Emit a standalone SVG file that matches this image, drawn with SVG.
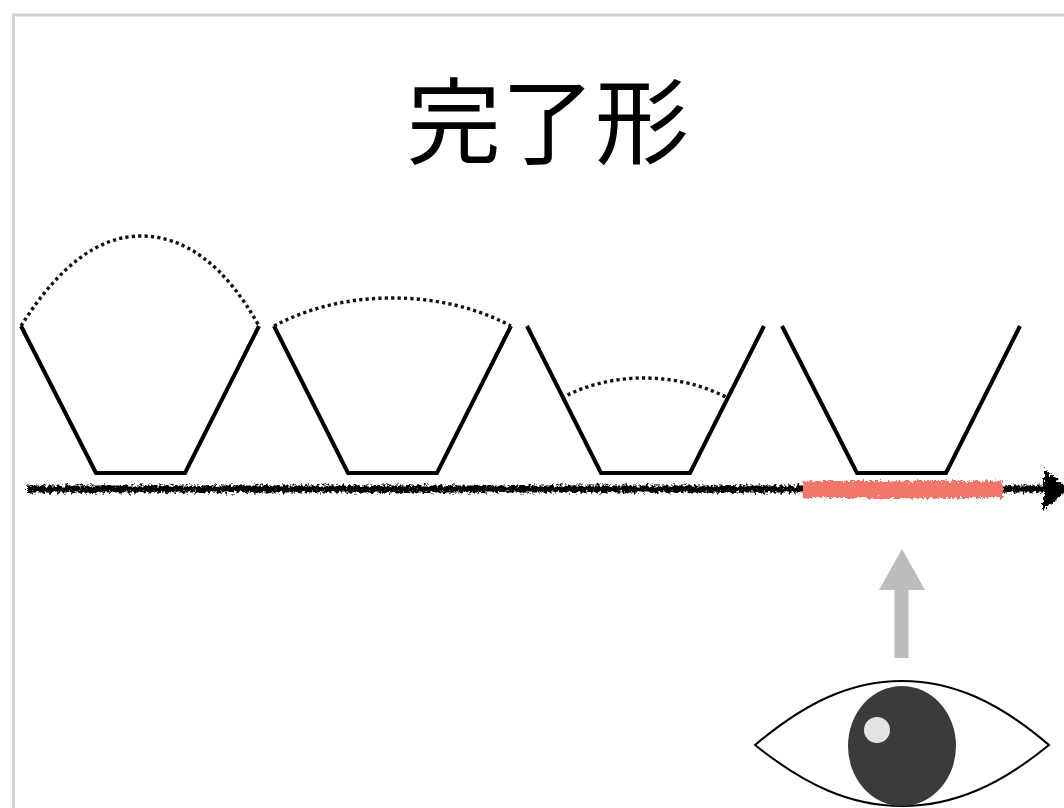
<svg xmlns="http://www.w3.org/2000/svg" width="1064" height="808" viewBox="0 0 1064 808">
<style>
.cup{fill:none;stroke:#000;stroke-width:4;stroke-linejoin:miter}
.dot{fill:none;stroke:#111;stroke-width:3.400;stroke-dasharray:3.200 3.200}
</style>
<defs>
<filter id="rough" x="-2%" y="-150%" width="104%" height="400%">
<feTurbulence type="fractalNoise" baseFrequency="0.35" numOctaves="3" seed="4"/>
<feDisplacementMap in="SourceGraphic" scale="8" xChannelSelector="R" yChannelSelector="G"/>
</filter>
</defs>
<rect width="1064" height="808" fill="#fff"/>
<path id="frame" d="M13.500 808V15H1064" fill="none" stroke="#d2d2d2" stroke-width="3"/>
<g id="title"><text x="548" y="157" text-anchor="middle" font-family="'Noto Sans CJK JP','Noto Sans CJK SC',sans-serif" font-size="94" fill="#000">完了形</text></g>
<g id="cup1"><path class="cup" d="M21 326L96 473H185L259 326"/><path class="dot" d="M21 326C60 264 100 236 141 236C185 236 225 265 259 326"/></g>
<g id="cup2"><path class="cup" d="M274 326L348 473H437L511 326"/><path class="dot" d="M274 326C310 307 350 298 392 298C435 298 475 307 511 326"/></g>
<g id="cup3"><path class="cup" d="M527 326L601 473H690L764 326"/><path class="dot" d="M562 398C585 385 615 378 643 378C672 378 700 384 726 397"/></g>
<g id="cup4"><path class="cup" d="M782 326L857 473H946L1020 326"/></g>
<g id="connectors">
<g id="timeline" filter="url(#rough)">
<path d="M27 489H1046" stroke="#000" stroke-width="7" fill="none"/>
<path d="M1043 469L1070 489L1043 510Z" fill="#000"/>
</g>
<rect id="highlight" x="803" y="481" width="200" height="17" fill="#f2766b" filter="url(#rough)"/>
<path id="look" d="M902 549L925 590H908.500V658H894.500V590H879Z" fill="#bcbcbc"/>
</g>
<g id="eye">
<path d="M755 745C805 703 850 681 902 681C954 681 1000 703 1049 745C1000 785 954 806 902 806C850 806 805 785 755 745Z" fill="#fff" stroke="#000" stroke-width="2"/>
<ellipse cx="902" cy="746" rx="54" ry="60" fill="#3b3b3b"/>
<circle cx="877" cy="730" r="13" fill="#e3e3e5"/>
</g>
</svg>
